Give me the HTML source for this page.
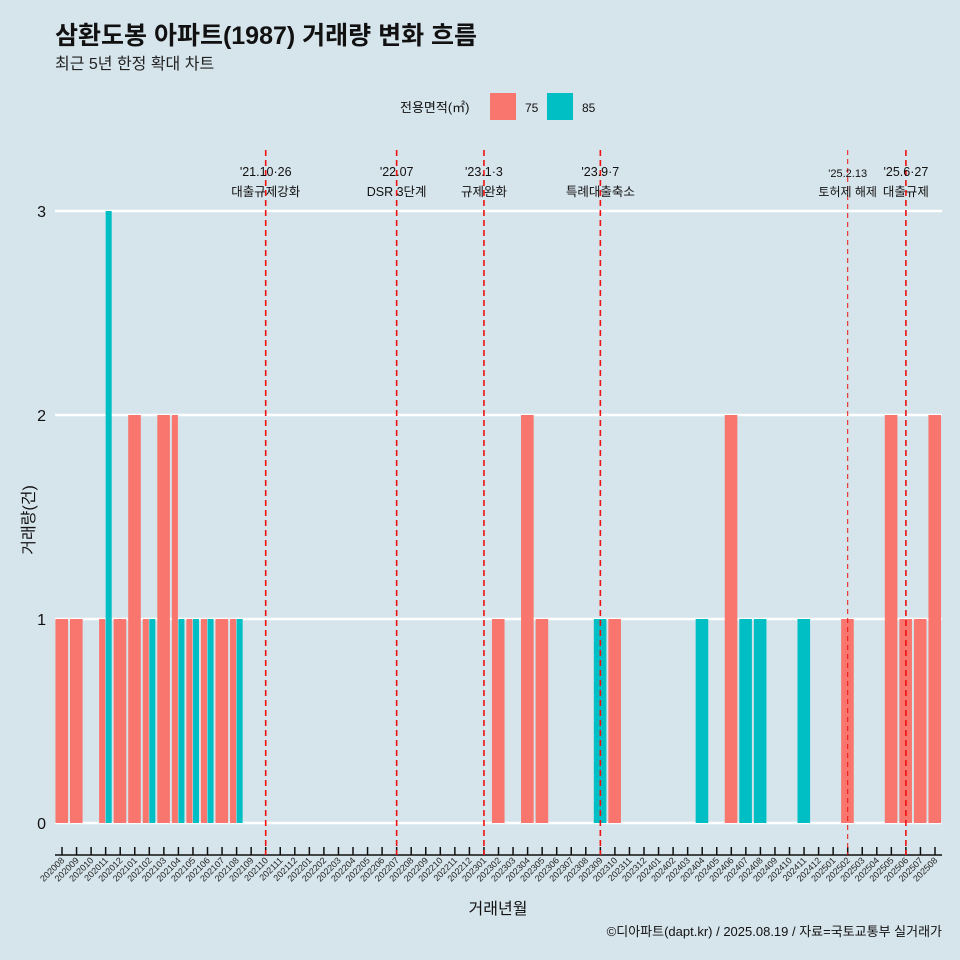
<!DOCTYPE html>
<html><head><meta charset="utf-8"><style>
body{margin:0;background:#d6e4eb;}
svg{display:block;font-family:"Liberation Sans","Noto Sans CJK KR",sans-serif;}
</style></head><body>
<svg id="c" width="960" height="960" viewBox="0 0 960 960">
<rect width="960" height="960" fill="#d6e4eb"/>
<text x="55" y="44" font-size="25" font-weight="bold" fill="#111">삼환도봉 아파트(1987) 거래량 변화 흐름</text>
<text x="55" y="69" font-size="16" fill="#222">최근 5년 한정 확대 차트</text>
<g>
<text x="400" y="112" font-size="13" fill="#111">전용면적(㎡)</text>
<rect x="490" y="93" width="26" height="27" fill="#f8766d"/>
<text x="525" y="112" font-size="12" fill="#111">75</text>
<rect x="547" y="93" width="26" height="27" fill="#00bfc4"/>
<text x="582" y="112" font-size="12" fill="#111">85</text>
</g>
<g id="plot"></g>
<text x="498" y="914" font-size="16" text-anchor="middle" fill="#111">거래년월</text>
<text transform="translate(34,520) rotate(-90)" font-size="16" text-anchor="middle" fill="#111">거래량(건)</text>
<text x="942" y="936" font-size="13" text-anchor="end" fill="#111">©디아파트(dapt.kr) / 2025.08.19 / 자료=국토교통부 실거래가</text>
</svg>
<script>
const months=[];
for(let y=2020;y<=2025;y++)for(let m=1;m<=12;m++){const k=y*100+m;if(k>=202008&&k<=202508)months.push(String(k));}
const v75Months=["202008","202009","202011","202012","202101","202102","202103","202104","202105","202106","202107","202108","202302","202304","202305","202310","202406","202502","202505","202506","202507","202508"];
const v75Values=[1,1,1,1,2,1,2,2,1,1,1,1,1,2,1,1,2,1,2,1,1,2];
const v85Months=["202011","202102","202104","202105","202106","202108","202309","202404","202407","202408","202411"];
const v85Values=[3,1,1,1,1,1,1,1,1,1,1];
const yTicks=[0,1,2,3];
const eventMonths=["202110","202207","202301","202309","202502","202506"];
const eventDates=["'21.10·26","'22.07","'23.1·3","'23.9·7","'25.2.13","'25.6·27"];
const eventLabels=["대출규제강화","DSR 3단계","규제완화","특례대출축소","토허제 해제","대출규제"];

const NS="http://www.w3.org/2000/svg";
const g=document.getElementById('plot');
const X0=62,STEP=(935-62)/60,Y0=823,YU=204;
const xs=i=>X0+i*STEP, ys=v=>Y0-v*YU;
function el(t,a){const e=document.createElementNS(NS,t);for(const k in a)e.setAttribute(k,a[k]);g.appendChild(e);return e;}
yTicks.forEach(t=>{
 const l=el('line',{x1:55,x2:942,y1:ys(t),y2:ys(t),stroke:'#fff','stroke-width':2.5});
 
 
 const tx=el('text',{x:46,y:ys(t)+6,'font-size':16,'text-anchor':'end',fill:'#111'});tx.textContent=t;
 
 
});
const W=STEP*0.9;
months.forEach((m,i)=>{
 const a=v75Months.indexOf(m),b=v85Months.indexOf(m);
 const both=a>=0&&b>=0, w=both?W/2:W, left=xs(i)-W/2;
 if(a>=0){const v=v75Values[a];const r=el('rect',{x:left,y:ys(v),width:w-0.5,height:v*YU,fill:'#f8766d'});
  
  }
 if(b>=0){const v=v85Values[b];const r=el('rect',{x:left+(both?w:0),y:ys(v),width:w-0.5,height:v*YU,fill:'#00bfc4'});
  
  }
});
const ax=el('line',{x1:55,x2:942,y1:855,y2:855,stroke:'#111','stroke-width':1.5});


months.forEach((m,i)=>{
 const t=el('line',{x1:xs(i),x2:xs(i),y1:847,y2:855,stroke:'#111','stroke-width':1.5});
 
 
 const tx=el('text',{transform:`translate(${xs(i)+3},861) rotate(-45)`,'font-size':9,'text-anchor':'end',fill:'#222'});tx.textContent=m;
 
 
});
eventMonths.forEach((m,j)=>{
 const i=months.indexOf(m),x=xs(i),small=m==="202502";
 const l=el('line',{x1:x,x2:x,y1:150,y2:855,stroke:'#ee1111','stroke-width':small?1:1.6,'stroke-dasharray':small?'5,4':'6,4'});
 
 
 const t1=el('text',{x:x,y:small?177:176,'font-size':small?11:12.5,'text-anchor':'middle',fill:'#111'});t1.textContent=eventDates[j];
 
 
 const t2=el('text',{x:x,y:196,'font-size':small?12:12.5,'text-anchor':'middle',fill:'#111'});t2.textContent=eventLabels[j];
 
 
});
</script>
</body></html>
